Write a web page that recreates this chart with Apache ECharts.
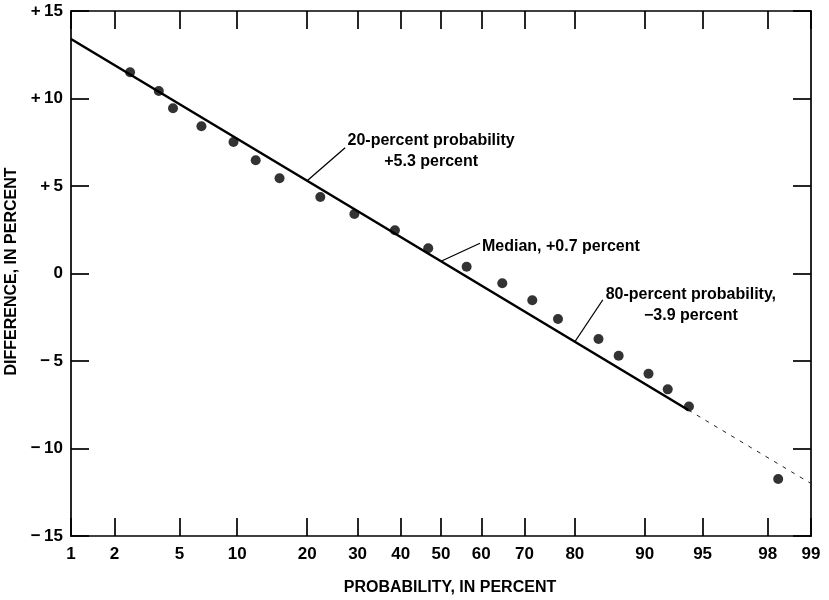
<!DOCTYPE html>
<html>
<head>
<meta charset="utf-8">
<script src="https://cdn.jsdelivr.net/npm/echarts@6/dist/echarts.min.js"></script>
<style>
html,body{margin:0;padding:0;background:#fff;}
#chart{width:829px;height:600px;}
</style>
</head>
<body>
<div id="chart"></div>
<script>
// ---- data (probabilities in percent, values in percent difference) ----
const probTicks = [1, 2, 5, 10, 20, 30, 40, 50, 60, 70, 80, 90, 95, 98, 99];
const yTickValues = [-15, -10, -5, 0, 5, 10, 15];
const pointProbs = [2.53, 3.8, 4.6, 6.6, 9.6, 12.2, 15.5, 22.4, 29.3, 38.6, 46.8, 56.4, 65.0, 71.7, 76.9, 83.9, 86.8, 90.4, 92.3, 94.05, 98.3];
const pointVals = [11.5, 10.43, 9.44, 8.41, 7.51, 6.47, 5.44, 4.37, 3.4, 2.47, 1.44, 0.39, -0.56, -1.53, -2.6, -3.74, -4.7, -5.73, -6.62, -7.6, -11.74];
const fitProbs = [1, 20, 50, 80, 94];
const fitVals = [13.4, 5.3, 0.7, -3.9, -7.8];
const extProbs = [94, 99];
const extVals = [-7.8, -12.0];
const annoProbs = [20, 50, 80];
const annoVals = [5.3, 0.7, -3.9];
const annoTexts = ['20-percent probability\n+5.3 percent', 'Median, +0.7 percent', '80-percent probability,\n\u22123.9 percent'];

// ---- normal probability scale transform (inverse normal CDF, Acklam) ----
function probit(pct) {
  const p = pct / 100;
  const a = [-3.969683028665376e+01, 2.209460984245205e+02, -2.759285104469687e+02, 1.383577518672690e+02, -3.066479806614716e+01, 2.506628277459239e+00];
  const b = [-5.447609879822406e+01, 1.615858368580409e+02, -1.556989798598866e+02, 6.680131188771972e+01, -1.328068155288572e+01];
  const c = [-7.784894002430293e-03, -3.223964580411365e-01, -2.400758277161838e+00, -2.549732539343734e+00, 4.374664141464968e+00, 2.938163982698783e+00];
  const d = [7.784695709041462e-03, 3.224671290700398e-01, 2.445134137142996e+00, 3.754408661907416e+00];
  const pl = 0.02425, ph = 1 - pl;
  let q, r;
  if (p < pl) {
    q = Math.sqrt(-2 * Math.log(p));
    return (((((c[0]*q+c[1])*q+c[2])*q+c[3])*q+c[4])*q+c[5]) / ((((d[0]*q+d[1])*q+d[2])*q+d[3])*q+1);
  } else if (p <= ph) {
    q = p - 0.5; r = q * q;
    return (((((a[0]*r+a[1])*r+a[2])*r+a[3])*r+a[4])*r+a[5])*q / (((((b[0]*r+b[1])*r+b[2])*r+b[3])*r+b[4])*r+1);
  } else {
    q = Math.sqrt(-2 * Math.log(1 - p));
    return -(((((c[0]*q+c[1])*q+c[2])*q+c[3])*q+c[4])*q+c[5]) / ((((d[0]*q+d[1])*q+d[2])*q+d[3])*q+1);
  }
}

const tickZ = probTicks.map(probit);
const zMin = tickZ[0], zMax = tickZ[tickZ.length - 1];
const FONT = '"Liberation Sans Narrow", "Liberation Sans", Arial, sans-serif';

function probLabel(z) {
  let best = 0, bd = Infinity;
  tickZ.forEach((t, i) => { const dd = Math.abs(t - z); if (dd < bd) { bd = dd; best = i; } });
  return String(probTicks[best]);
}
function yLabel(v) {
  if (v > 0) return '+\u2009' + v;
  if (v < 0) return '\u2212\u2009' + Math.abs(v);
  return '0';
}

const axisLineStyle = { color: '#000', width: 1.7 };
const labelStyle = { color: '#000', fontSize: 17, fontFamily: FONT, fontWeight: 'bold' };

function xAxisDef(pos, showLabel) {
  return {
    type: 'value', position: pos, min: zMin, max: zMax,
    axisLine: { show: true, onZero: false, lineStyle: axisLineStyle },
    axisTick: { show: true, inside: true, length: 18, customValues: tickZ, lineStyle: axisLineStyle },
    axisLabel: Object.assign({ show: showLabel, customValues: tickZ, margin: 10, formatter: probLabel }, labelStyle),
    splitLine: { show: false },
    name: showLabel ? 'PROBABILITY, IN PERCENT' : '',
    nameLocation: 'middle', nameGap: 44,
    nameTextStyle: { color: '#000', fontSize: 16, fontFamily: FONT, fontWeight: 'bold', padding: [0, 0, 0, 18] }
  };
}
function yAxisDef(pos, showLabel) {
  return {
    type: 'value', position: pos, min: -15, max: 15, interval: 5,
    axisLine: { show: true, onZero: false, lineStyle: axisLineStyle },
    axisTick: { show: true, inside: true, length: 18, lineStyle: axisLineStyle },
    axisLabel: Object.assign({ show: showLabel, margin: 8, formatter: yLabel }, labelStyle),
    splitLine: { show: false },
    name: showLabel ? 'DIFFERENCE, IN PERCENT' : '',
    nameLocation: 'middle', nameGap: 50, nameRotate: 90,
    nameTextStyle: { color: '#000', fontSize: 16, fontFamily: FONT, fontWeight: 'bold', padding: [0, 0, 0, 4] }
  };
}

const chart = echarts.init(document.getElementById('chart'), null, { renderer: 'canvas' });
chart.setOption({
  animation: false,
  backgroundColor: '#fff',
  grid: { left: 71, right: 18, top: 11, bottom: 64, containLabel: false, outerBoundsMode: 'none' },
  xAxis: [xAxisDef('bottom', true), xAxisDef('top', false)],
  yAxis: [yAxisDef('left', true), yAxisDef('right', false)],
  series: [
    {
      type: 'line', name: 'fit', xAxisIndex: 0, yAxisIndex: 0,
      data: fitProbs.map((p, i) => [probit(p), fitVals[i]]),
      showSymbol: false, lineStyle: { color: '#000', width: 2.6 }, z: 3
    },
    {
      type: 'line', name: 'extension', xAxisIndex: 0, yAxisIndex: 0,
      data: extProbs.map((p, i) => [probit(p), extVals[i]]),
      showSymbol: false, lineStyle: { color: '#222', width: 1, type: [4, 6] }, z: 3
    },
    {
      type: 'scatter', name: 'observed', xAxisIndex: 0, yAxisIndex: 0,
      data: pointProbs.map((p, i) => [probit(p), pointVals[i]]),
      symbol: 'circle', symbolSize: 10, itemStyle: { color: '#000' }, z: 4
    }
  ]
});

// ---- annotations anchored on the fitted line in data space ----
const leaderOffsets = [[38, -33], [39, -18], [28, -42]];
const textOffsets = [[124, -30], [41, -15], [116, -37]];
const textAlign = ['center', 'left', 'center'];
const graphics = [];
annoProbs.forEach((p, i) => {
  const pt = chart.convertToPixel({ xAxisIndex: 0, yAxisIndex: 0 }, [probit(p), annoVals[i]]);
  graphics.push({
    type: 'line',
    shape: { x1: pt[0], y1: pt[1], x2: pt[0] + leaderOffsets[i][0], y2: pt[1] + leaderOffsets[i][1] },
    style: { stroke: '#000', lineWidth: 1.3 }
  });
  graphics.push({
    type: 'text',
    x: pt[0] + textOffsets[i][0], y: pt[1] + textOffsets[i][1],
    style: {
      text: annoTexts[i], fill: '#000', font: 'bold 16px ' + FONT,
      align: textAlign[i], verticalAlign: 'middle', lineHeight: 21
    }
  });
});
chart.setOption({ graphic: graphics });
</script>
</body>
</html>
